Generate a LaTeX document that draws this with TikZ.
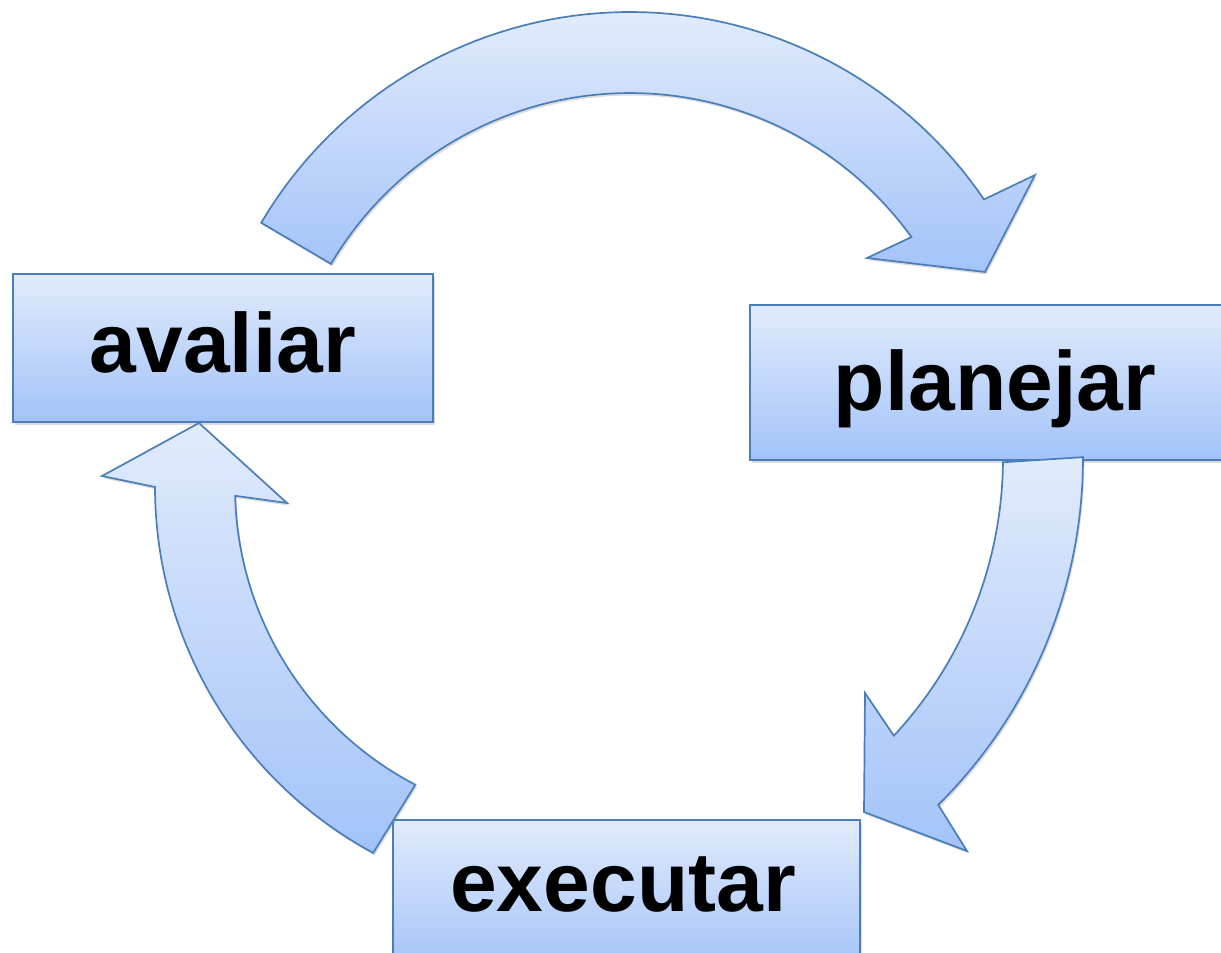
\documentclass[tikz,border=0pt]{standalone}
\usepackage{fontspec}
\setmainfont{Liberation Sans}
\usetikzlibrary{shadows}
\definecolor{lt}{RGB}{225,235,252}
\definecolor{dk}{RGB}{163,195,249}
\definecolor{ed}{RGB}{74,126,187}
\begin{document}
\begin{tikzpicture}[x=1pt,y=-1pt,
  shp/.style={draw=ed, line width=1.7pt, top color=lt, bottom color=dk, line join=miter,
    drop shadow={shadow xshift=1.5pt, shadow yshift=-2.5pt, opacity=0.28}},
  boxst/.style={shp, rectangle, inner sep=0pt},
  lbl/.style={font=\fontsize{84}{84}\selectfont\bfseries, anchor=base, inner sep=0pt}]
\useasboundingbox (0,0) rectangle (1221,953);
\clip (0,0) rectangle (1221,953);
% boxes
\node[boxst, minimum width=420pt, minimum height=148pt] (avaliarbox) at (223,348) {};
\node[boxst, minimum width=475pt, minimum height=155pt] (planejarbox) at (987.5,382.5) {};
\node[boxst, minimum width=467pt, minimum height=150pt] (executarbox) at (626.5,895) {};
\node[lbl] (avaliar) at (223,372) {avaliar};
\node[lbl] (planejar) at (995,410) {planejar};
\node[lbl] (executar) at (623,911) {executar};
% top arrow: avaliar -> planejar
\path[shp] plot[domain=210.5:325.8, samples=70] ({630+428*cos(\x)},{440+428*sin(\x)})
  -- (1035,175) -- (985,272) -- (867,258)
  -- plot[domain=324.2:210.5, samples=70] ({630+347*cos(\x)},{440+347*sin(\x)}) -- cycle;
% right arrow: planejar -> executar
\path[shp] plot[domain=-0.1:45.3, samples=60] ({595+488*cos(\x)},{458+488*sin(\x)})
  -- (967,851) -- (864,812) -- (865,693)
  -- plot[domain=42.9:0.6, samples=60] ({595+408*cos(\x)},{458+408*sin(\x)}) -- cycle;
% left arrow: executar -> avaliar
\path[shp] plot[domain=118.4:180, samples=60] ({571+416*cos(\x)},{487+416*sin(\x)})
  -- (102,476) -- (199,423) -- (287,503)
  -- plot[domain=178.5:117.6, samples=60] ({571+336*cos(\x)},{487+336*sin(\x)}) -- cycle;
\end{tikzpicture}
\end{document}
